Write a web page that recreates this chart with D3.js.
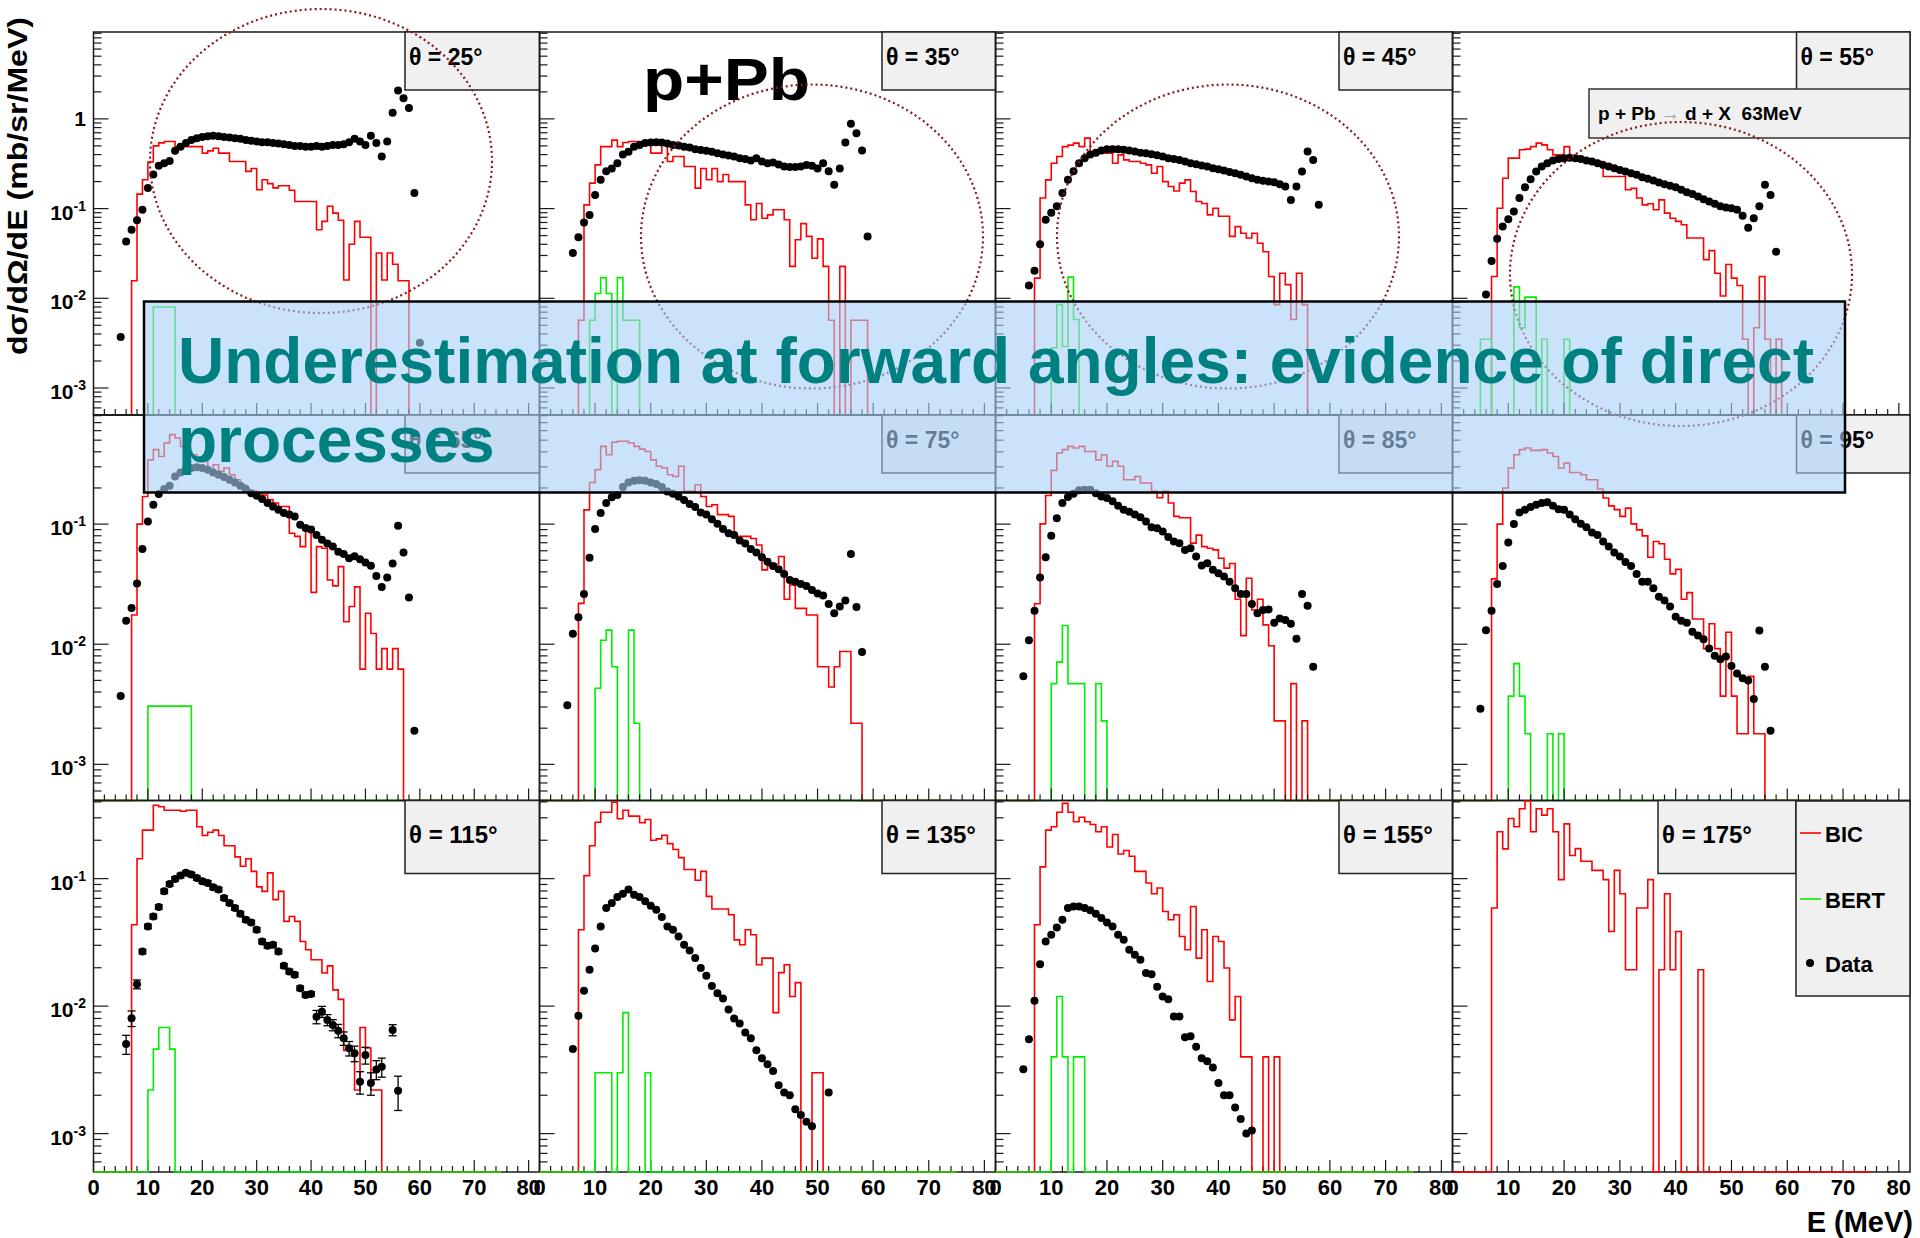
<!DOCTYPE html>
<html>
<head>
<meta charset="utf-8">
<title>p+Pb -> d + X, 63 MeV</title>
<script src="https://cdn.jsdelivr.net/npm/d3@7"></script>
<style>
  body { margin: 0; background: #fff; }
  svg text { font-family: "Liberation Sans", Arial, Helvetica, sans-serif; font-weight: bold; }
</style>
</head>
<body>
<div id="chart"></div>
<script>
// panel angles, left to right, top to bottom
const angles = [25, 35, 45, 55, 65, 75, 85, 95, 115, 135, 155, 175];

// BIC histograms (1 MeV bins, first bin is 7-8 MeV), mb/sr/MeV
const bicStart = 7;
const bic25 = [0.0157, 0.145, 0.21, 0.33, 0.50, 0.54, 0.56, 0.56, 0.49, 0.49, 0.49, 0.49, 0.49, 0.415, 0.44, 0.47, 0.415, 0.415, 0.335, 0.335, 0.335, 0.26, 0.28, 0.162, 0.21, 0.19, 0.17, 0.18, 0.18, 0.16, 0.12, 0.12, 0.12, 0.12, 0.058, 0.072, 0.106, 0.089, 0.074, 0.016, 0.04, 0.072, 0.048, 0.048, 0, 0.032, 0.016, 0.032, 0.024, 0.0157, 0.0157];
const bic35 = [0.0057, 0.11, 0.192, 0.307, 0.49, 0.49, 0.58, 0.49, 0.545, 0.56, 0.56, 0.56, 0.56, 0.415, 0.415, 0.56, 0.335, 0.38, 0.38, 0.294, 0.294, 0.169, 0.28, 0.21, 0.28, 0.20, 0.24, 0.20, 0.20, 0.20, 0.11, 0.075, 0.114, 0.078, 0.085, 0.097, 0.097, 0.075, 0.0227, 0.045, 0.068, 0.049, 0.028, 0.046, 0.0227, 0.0057, 0, 0.0227, 0, 0.0057, 0.0057, 0.0057];
const bic45 = [0.0168, 0.131, 0.209, 0.32, 0.38, 0.49, 0.51, 0.536, 0.49, 0.61, 0.415, 0.43, 0.415, 0.415, 0.32, 0.397, 0.349, 0.335, 0.335, 0.32, 0.307, 0.248, 0.294, 0.20, 0.176, 0.157, 0.192, 0.209, 0.155, 0.12, 0.114, 0.085, 0.101, 0.082, 0.082, 0.049, 0.063, 0.053, 0.047, 0.053, 0.041, 0.033, 0.0175, 0.0085, 0.019, 0.0142, 0.0058, 0.019, 0.0085];
const bic55 = [0.0175, 0.101, 0.218, 0.365, 0.365, 0.452, 0.46, 0.49, 0.536, 0.513, 0.452, 0.397, 0.397, 0.49, 0.38, 0.375, 0.356, 0.356, 0.343, 0.335, 0.228, 0.228, 0.228, 0.228, 0.162, 0.168, 0.131, 0.11, 0.113, 0.097, 0.125, 0.089, 0.078, 0.072, 0.066, 0.047, 0.047, 0.047, 0.027, 0.034, 0.019, 0.0106, 0.0238, 0.0168, 0.0139, 0.0035, 0, 0.0047, 0.0175, 0.0035, 0, 0.0035];
const bic65 = [0.0175, 0.1, 0.17, 0.343, 0.417, 0.366, 0.474, 0.556, 0.521, 0.444, 0.378, 0.378, 0.343, 0.343, 0.284, 0.312, 0.275, 0.293, 0.258, 0.234, 0.213, 0.193, 0.188, 0.181, 0.175, 0.16, 0.15, 0.14, 0.14, 0.084, 0.079, 0.065, 0.087, 0.027, 0.065, 0.063, 0.0343, 0.0306, 0.0443, 0.0154, 0.0206, 0.030, 0.0062, 0.0181, 0.0123, 0.0062, 0.0092, 0.0062, 0.0092, 0.0062];
const bic75 = [0.0219, 0.1315, 0.222, 0.284, 0.444, 0.378, 0.48, 0.49, 0.49, 0.474, 0.444, 0.421, 0.402, 0.343, 0.303, 0.293, 0.258, 0.249, 0.303, 0.188, 0.188, 0.213, 0.17, 0.14, 0.145, 0.12, 0.12, 0.116, 0.079, 0.079, 0.079, 0.076, 0.067, 0.0416, 0.045, 0.0465, 0.0537, 0.0237, 0.0312, 0.0199, 0.0199, 0.0175, 0.0175, 0.0065, 0.0065, 0.0044, 0.0065, 0.0087, 0.0087, 0.0022, 0.0022];
const bic85 = [0.0217, 0.1005, 0.173, 0.28, 0.391, 0.417, 0.444, 0.43, 0.444, 0.402, 0.402, 0.343, 0.378, 0.303, 0.333, 0.303, 0.234, 0.234, 0.249, 0.22, 0.22, 0.188, 0.166, 0.188, 0.15, 0.116, 0.113, 0.113, 0.0694, 0.081, 0.065, 0.063, 0.061, 0.052, 0.043, 0.047, 0.0237, 0.0118, 0.0354, 0.0193, 0.0237, 0.0145, 0.0097, 0.0023, 0.0023, 0, 0.0047, 0, 0.0023];
const bic95 = [0.035, 0.1, 0.2, 0.293, 0.378, 0.417, 0.43, 0.411, 0.411, 0.417, 0.391, 0.366, 0.293, 0.322, 0.269, 0.269, 0.258, 0.234, 0.234, 0.196, 0.165, 0.142, 0.132, 0.116, 0.136, 0.1005, 0.0896, 0.0798, 0.053, 0.0716, 0.0686, 0.051, 0.0385, 0.042, 0.0237, 0.0269, 0.0162, 0.0162, 0.0092, 0.0148, 0.0092, 0.0037, 0.0126, 0.0037, 0.0018, 0.0018, 0.0054, 0.0018, 0.0018];
const bic115 = [0.0435, 0.143, 0.24, 0.24, 0.376, 0.366, 0.344, 0.344, 0.344, 0.338, 0.344, 0.344, 0.255, 0.218, 0.231, 0.24, 0.218, 0.181, 0.181, 0.148, 0.125, 0.143, 0.114, 0.0861, 0.0795, 0.111, 0.0684, 0.0795, 0.0462, 0.0505, 0.0462, 0.0321, 0.0277, 0.0231, 0.0231, 0.0182, 0.0207, 0.0134, 0.0113, 0.0045, 0.0045, 0.0022, 0.0068, 0.0047, 0.0022, 0.0022];
const bic135 = [0.0397, 0.1056, 0.181, 0.277, 0.332, 0.332, 0.398, 0.295, 0.344, 0.309, 0.309, 0.274, 0.291, 0.2, 0.205, 0.219, 0.188, 0.169, 0.146, 0.118, 0.118, 0.097, 0.114, 0.0726, 0.0578, 0.0578, 0.0578, 0.0521, 0.0331, 0.0303, 0.0397, 0.0363, 0.0211, 0.0238, 0.0238, 0.0089, 0.0183, 0.0211, 0.0119, 0.0153, 0, 0, 0.003, 0.003];
const bic155 = [0.0435, 0.1236, 0.24, 0.255, 0.332, 0.389, 0.332, 0.279, 0.303, 0.279, 0.266, 0.233, 0.255, 0.177, 0.222, 0.156, 0.166, 0.15, 0.114, 0.114, 0.0925, 0.0762, 0.0845, 0.0553, 0.0476, 0.0521, 0.0352, 0.0277, 0.0605, 0.0238, 0.0397, 0.0156, 0.0352, 0.0321, 0.0199, 0.0078, 0.0119, 0.004, 0.004, 0, 0, 0.004, 0, 0.004];
const bic175 = [0.0588, 0.233, 0.171, 0.296, 0.255, 0.353, 0.406, 0.233, 0.353, 0.315, 0.353, 0.233, 0.0982, 0.269, 0.152, 0.172, 0.137, 0.137, 0.116, 0.116, 0.0982, 0.0385, 0.116, 0.0762, 0.0193, 0.0193, 0.0588, 0.0588, 0.0982, 0, 0.0193, 0.0762, 0.0193, 0.0385, 0, 0, 0, 0.0193];

// BERT histograms, first bin (MeV) per panel
const bertStart = [11, 9, 10, 5, 10, 10, 10, 10, 10, 10, 10, null];
const bert25 = [0.008, 0.008, 0.008, 0.008];
const bert35 = [0.0057, 0.0113, 0.017, 0.0113, 0, 0.017, 0.0057, 0.0057, 0.0057];
const bert45 = [0.0028, 0.0085, 0.0029, 0.0172, 0.0058];
const bert55 = [0.0035, 0.0035, 0, 0, 0, 0, 0.0134, 0.0047, 0.0103, 0.0103, 0, 0.0035, 0, 0, 0, 0.0035];
const bert65 = [0.00305, 0.00305, 0.00305, 0.00305, 0.00305, 0.00305, 0.00305, 0.00305];
const bert75 = [0.0043, 0.0108, 0.0131, 0.0065, 0, 0, 0.0131, 0.0022];
const bert85 = [0.0047, 0.0071, 0.0143, 0.0047, 0.0047, 0.0047, 0, 0, 0.0047, 0.0023];
const bert95 = [0.0037, 0.0069, 0.0037, 0.0018, 0, 0, 0, 0.0018, 0, 0.0018];
const bert115 = [0.0022, 0.0046, 0.0068, 0.0068, 0.0046];
const bert135 = [0.003, 0.003, 0.003, 0, 0.003, 0.0089, 0, 0, 0, 0.003];
const bert155 = [0.004, 0.0119, 0.004, 0, 0.004, 0.004];

// measured points, one per MeV starting at dataStart (null = no point)
const dataStart = [5, 6, 6, 6, 5, 5, 5, 5, 6, 6, 5, null];
const data25 = [0.0037, 0.043, 0.058, 0.074, 0.097, 0.17, 0.24, 0.30, 0.32, 0.34, 0.44, 0.49, 0.54, 0.58, 0.61, 0.63, 0.64, 0.65, 0.64, 0.63, 0.62, 0.61, 0.60, 0.58, 0.57, 0.56, 0.55, 0.55, 0.54, 0.53, 0.52, 0.51, 0.50, 0.50, 0.49, 0.49, 0.50, 0.49, 0.50, 0.51, 0.51, 0.52, 0.55, 0.60, 0.56, 0.51, 0.65, 0.54, 0.38, 0.56, 1.17, 2.07, 1.7, 1.32, 0.149, 0.0032];
const data35 = [0.032, 0.048, 0.070, 0.085, 0.142, 0.21, 0.26, 0.28, 0.32, 0.40, 0.43, 0.49, 0.51, 0.54, 0.545, 0.55, 0.545, 0.53, 0.51, 0.505, 0.49, 0.48, 0.46, 0.45, 0.44, 0.43, 0.415, 0.40, 0.39, 0.38, 0.365, 0.356, 0.343, 0.365, 0.335, 0.32, 0.326, 0.31, 0.295, 0.29, 0.29, 0.295, 0.307, 0.30, 0.28, 0.32, 0.26, 0.184, 0.28, 0.545, 0.88, 0.69, 0.444, 0.049];
const data45 = [0.0139, 0.0203, 0.040, 0.075, 0.09, 0.106, 0.149, 0.21, 0.26, 0.32, 0.365, 0.40, 0.42, 0.444, 0.459, 0.459, 0.459, 0.452, 0.444, 0.432, 0.42, 0.415, 0.404, 0.394, 0.38, 0.365, 0.356, 0.349, 0.335, 0.32, 0.313, 0.302, 0.294, 0.282, 0.275, 0.266, 0.255, 0.248, 0.238, 0.228, 0.218, 0.209, 0.204, 0.20, 0.197, 0.187, 0.176, 0.125, 0.176, 0.259, 0.432, 0.349, 0.11];
const data55 = [0.011, 0.026, 0.046, 0.063, 0.076, 0.093, 0.131, 0.173, 0.213, 0.259, 0.294, 0.32, 0.343, 0.356, 0.365, 0.368, 0.365, 0.356, 0.343, 0.335, 0.32, 0.307, 0.294, 0.282, 0.27, 0.259, 0.248, 0.238, 0.224, 0.215, 0.206, 0.195, 0.187, 0.18, 0.173, 0.162, 0.152, 0.145, 0.136, 0.127, 0.12, 0.113, 0.106, 0.103, 0.101, 0.097, 0.083, 0.061, 0.078, 0.106, 0.184, 0.142, 0.033];
const data65 = [0.0037, 0.0157, 0.020, 0.032, 0.062, 0.105, 0.145, 0.178, 0.196, 0.209, 0.249, 0.269, 0.288, 0.293, 0.297, 0.293, 0.284, 0.269, 0.258, 0.247, 0.234, 0.222, 0.209, 0.196, 0.181, 0.172, 0.162, 0.15, 0.14, 0.132, 0.124, 0.12, 0.116, 0.099, 0.093, 0.09, 0.081, 0.074, 0.069, 0.065, 0.059, 0.0565, 0.052, 0.054, 0.051, 0.048, 0.045, 0.037, 0.030, 0.036, 0.047, 0.097, 0.058, 0.0245, 0.0019];
const data75 = [0.0031, 0.0122, 0.0168, 0.0262, 0.0526, 0.091, 0.124, 0.15, 0.167, 0.175, 0.204, 0.222, 0.23, 0.232, 0.23, 0.222, 0.216, 0.204, 0.187, 0.179, 0.17, 0.159, 0.147, 0.139, 0.125, 0.12, 0.11, 0.1005, 0.091, 0.084, 0.081, 0.073, 0.069, 0.062, 0.058, 0.053, 0.0487, 0.0449, 0.042, 0.0385, 0.0343, 0.0332, 0.0318, 0.0306, 0.0283, 0.0265, 0.0254, 0.0216, 0.0181, 0.0206, 0.0231, 0.0565, 0.0204, 0.0086];
const data85 = [0.0054, 0.0108, 0.019, 0.0359, 0.053, 0.080, 0.112, 0.15, 0.168, 0.179, 0.191, 0.193, 0.193, 0.181, 0.17, 0.165, 0.155, 0.142, 0.132, 0.127, 0.12, 0.114, 0.105, 0.094, 0.0926, 0.087, 0.078, 0.0716, 0.0694, 0.061, 0.063, 0.0537, 0.0452, 0.0473, 0.0416, 0.039, 0.0366, 0.0332, 0.0292, 0.0262, 0.0262, 0.0216, 0.0181, 0.0193, 0.0195, 0.0151, 0.0164, 0.0159, 0.0148, 0.0111, 0.0262, 0.0209, 0.0065];
const data95 = [0.0029, 0.0131, 0.019, 0.0318, 0.0449, 0.0703, 0.10, 0.125, 0.1315, 0.139, 0.145, 0.15, 0.152, 0.142, 0.133, 0.1315, 0.12, 0.11, 0.1005, 0.0944, 0.0852, 0.081, 0.0716, 0.065, 0.058, 0.0537, 0.0483, 0.0449, 0.0385, 0.0332, 0.0331, 0.0292, 0.0248, 0.0231, 0.0206, 0.0169, 0.0157, 0.0151, 0.0127, 0.0118, 0.011, 0.0092, 0.008, 0.0075, 0.0079, 0.0066, 0.0057, 0.0052, 0.0050, 0.0035, 0.013, 0.0065, 0.0019];
const data115 = [0.00504, 0.00804, 0.01485, 0.0268, 0.0422, 0.0505, 0.0599, 0.0795, 0.0908, 0.0994, 0.1056, 0.111, 0.1075, 0.101, 0.0953, 0.0925, 0.0855, 0.082, 0.0705, 0.0644, 0.0589, 0.0531, 0.0476, 0.0453, 0.0397, 0.0321, 0.0297, 0.0303, 0.0268, 0.0207, 0.0187, 0.0176, 0.0138, 0.01225, 0.01247, 0.00826, 0.00905, 0.0078, 0.00712, 0.00642, 0.0056, 0.00467, 0.00426, 0.00255, 0.00413, 0.0025, 0.00319, 0.00334, null, 0.0065, 0.00217];
const data135 = [0.0046, 0.0084, 0.0132, 0.0193, 0.0283, 0.0422, 0.0589, 0.0644, 0.0718, 0.0762, 0.082, 0.0748, 0.0718, 0.0664, 0.0614, 0.0571, 0.05, 0.0422, 0.0397, 0.0352, 0.0303, 0.0273, 0.0238, 0.0199, 0.0173, 0.0144, 0.0126, 0.0115, 0.0094, 0.0080, 0.0073, 0.0062, 0.0056, 0.0045, 0.0039, 0.0035, 0.0031, 0.0024, 0.0021, 0.0020, 0.00155, 0.0014, 0.00124, 0.00114, null, null, 0.0021];
const data155 = [0.0032, 0.0055, 0.011, 0.0213, 0.0321, 0.0363, 0.0414, 0.0476, 0.0589, 0.0605, 0.0605, 0.0589, 0.0564, 0.0531, 0.0491, 0.0453, 0.0422, 0.0363, 0.0331, 0.0277, 0.0253, 0.0231, 0.0182, 0.0178, 0.0142, 0.0119, 0.0113, 0.0083, 0.0083, 0.0057, 0.0058, 0.0048, 0.0039, 0.0037, 0.0033, 0.0025, 0.0020, 0.0020, 0.0016, 0.0013, 0.0010, 0.00106];
// relative errors of the 115 deg points (the only ones visible outside the markers)
const err115 = [0.17, 0.14, 0.08, 0.04, 0.04, 0.04, 0.04, 0.04, 0.04, 0.04, 0.04, 0.04, 0.04, 0.04, 0.04, 0.04, 0.04, 0.04, 0.04, 0.04, 0.04, 0.04, 0.04, 0.04, 0.04, 0.04, 0.04, 0.04, 0.04, 0.04, 0.04, 0.04, 0.04, 0.04, 0.04, 0.12, 0.1, 0.1, 0.1, 0.12, 0.12, 0.13, 0.14, 0.2, 0.15, 0.2, 0.17, 0.17, null, 0.1, 0.3];

// axes
const xMajorTicks = [0, 10, 20, 30, 40, 50, 60, 70, 80];
const rowTop = [9.3, 0.81, 0.41];
const yBottom = 5e-4;
const histEnd = 75;

const bicList = [bic25, bic35, bic45, bic55, bic65, bic75, bic85, bic95, bic115, bic135, bic155, bic175];
const bertList = [bert25, bert35, bert45, bert55, bert65, bert75, bert85, bert95, bert115, bert135, bert155, null];
const dataList = [data25, data35, data45, data55, data65, data75, data85, data95, data115, data135, data155, null];

// pad geometry
const colX = [93.5, 539.5, 995.5, 1452.5, 1910];
const rowY = [32, 415, 800.5, 1172];
const boxH = [58, 58, 73];

const svg = d3.select("#chart").append("svg")
  .attr("width", 1920).attr("height", 1238)
  .style("display", "block");

// full 0-75 MeV bin list, empty bins sit at the bottom of the pad
function histPoints(start, vals) {
  const pts = [];
  for (let b = 0; b < histEnd; b++) {
    const k = b - start;
    pts.push([b, k >= 0 && k < vals.length ? vals[k] : 0]);
  }
  pts.push([histEnd, pts[histEnd - 1][1]]);
  return pts;
}

function drawFrame(g, x, y, col, row) {
  const x0 = colX[col], x1 = colX[col + 1], y0 = rowY[row], y1 = rowY[row + 1];
  g.append("rect")
    .attr("x", x0).attr("y", y0).attr("width", x1 - x0).attr("height", y1 - y0)
    .attr("fill", "none").attr("stroke", "#1a1a1a").attr("stroke-width", 1.5);

  // x ticks along the bottom, every 2 MeV
  const xt = d3.range(0, 82, 2);
  g.selectAll(null).data(xt).join("line")
    .attr("x1", d => x(d)).attr("x2", d => x(d))
    .attr("y1", y1).attr("y2", d => y1 - (d % 10 === 0 ? 12 : 6))
    .attr("stroke", "#1a1a1a").attr("stroke-width", 1.2);

  // log y ticks on the left edge
  const yt = [];
  for (let e = -4; e <= 1; e++) {
    for (let m = 1; m < 10; m++) {
      const v = m * Math.pow(10, e);
      if (v >= yBottom && v <= rowTop[row]) yt.push({ v: v, major: m === 1 });
    }
  }
  g.selectAll(null).data(yt).join("line")
    .attr("x1", x0).attr("x2", d => x0 + (d.major ? 15 : 8))
    .attr("y1", d => y(d.v)).attr("y2", d => y(d.v))
    .attr("stroke", "#1a1a1a").attr("stroke-width", 1.2);
}

angles.forEach((angle, i) => {
  const col = i % 4, row = Math.floor(i / 4);
  const x = d3.scaleLinear().domain([0, 82]).range([colX[col], colX[col + 1]]);
  const y = d3.scaleLog().domain([yBottom, rowTop[row]]).range([rowY[row + 1], rowY[row]]).clamp(true);
  const yv = v => (v > 0 ? y(v) : y(yBottom));
  const g = svg.append("g").attr("class", "pad pad-" + angle);

  const line = d3.line()
    .x(d => x(d[0]))
    .y(d => yv(d[1]))
    .curve(d3.curveStepAfter);

  // bottom row: histograms are drawn over the frame
  if (row === 2) drawFrame(g, x, y, col, row);

  g.append("path")
    .attr("d", line(histPoints(bicStart, bicList[i])))
    .attr("fill", "none").attr("stroke", "#ff0000").attr("stroke-width", 1.6);

  if (bertList[i]) {
    g.append("path")
      .attr("d", line(histPoints(bertStart[i], bertList[i])))
      .attr("fill", "none").attr("stroke", "#00ee00").attr("stroke-width", 1.6);
  }

  if (dataList[i]) {
    const pts = dataList[i]
      .map((v, k) => ({ e: dataStart[i] + k, v: v, err: angle === 115 ? err115[k] : null }))
      .filter(d => d.v !== null);

    if (angle === 115) {
      const bars = pts.filter(d => d.err);
      g.selectAll(null).data(bars).join("line")
        .attr("x1", d => x(d.e)).attr("x2", d => x(d.e))
        .attr("y1", d => y(d.v * (1 - d.err))).attr("y2", d => y(d.v * (1 + d.err)))
        .attr("stroke", "#000").attr("stroke-width", 1.3);
      [-1, 1].forEach(s => {
        g.selectAll(null).data(bars).join("line")
          .attr("x1", d => x(d.e) - 4).attr("x2", d => x(d.e) + 4)
          .attr("y1", d => y(d.v * (1 + s * d.err))).attr("y2", d => y(d.v * (1 + s * d.err)))
          .attr("stroke", "#000").attr("stroke-width", 1.3);
      });
    }

    g.selectAll(null).data(pts).join("circle")
      .attr("cx", d => x(d.e))
      .attr("cy", d => y(d.v))
      .attr("r", 4)
      .attr("fill", "#000");
  }

  if (row < 2) drawFrame(g, x, y, col, row);

  // y tick labels only on the first column
  if (col === 0) {
    const decades = [1, 0.1, 0.01, 0.001].filter(v => v <= rowTop[row]);
    decades.forEach(v => {
      const ex = Math.round(Math.log10(v));
      const t = g.append("text")
        .attr("x", 86)
        .attr("text-anchor", "end")
        .style("font-size", "21px");
      if (ex === 0) {
        t.attr("y", y(v) + 7.5).text("1");
      } else {
        t.attr("y", y(v) + 11);
        t.append("tspan").text("10");
        t.append("tspan").attr("dy", -9).style("font-size", "14px").text(ex);
      }
    });
  }

  // energy labels under the last row
  if (row === 2) {
    g.selectAll(null).data(xMajorTicks).join("text")
      .attr("x", d => x(d)).attr("y", 1195)
      .attr("text-anchor", "middle")
      .style("font-size", "22px")
      .text(d => d);
  }

  // angle box in the upper right corner
  let bx0 = col === 0 ? 405 : colX[col + 1] - 113.5;
  let bx1 = colX[col + 1];
  if (angle === 175) { bx0 = 1658; bx1 = 1796; }
  g.append("rect")
    .attr("x", bx0).attr("y", rowY[row])
    .attr("width", bx1 - bx0).attr("height", boxH[row])
    .attr("fill", "#f0f0f0").attr("stroke", "#222").attr("stroke-width", 1.5);
  g.append("text")
    .attr("x", bx0 + 4)
    .attr("y", rowY[row] + (row === 2 ? 42 : 33))
    .style("font-size", row === 2 ? "24px" : "23px")
    .text("\u03b8 = " + angle + "\u00b0");
});

// legend
const leg = svg.append("g").attr("class", "legend");
leg.append("rect")
  .attr("x", 1796).attr("y", 801).attr("width", 114).attr("height", 195)
  .attr("fill", "#f0f0f0").attr("stroke", "#222").attr("stroke-width", 1.5);
[{ name: "BIC", color: "#ff0000", y: 833 }, { name: "BERT", color: "#00ee00", y: 899 }].forEach(d => {
  leg.append("line")
    .attr("x1", 1800).attr("x2", 1821).attr("y1", d.y).attr("y2", d.y)
    .attr("stroke", d.color).attr("stroke-width", 1.6);
  leg.append("text").attr("x", 1825).attr("y", d.y + 9).style("font-size", "22px").text(d.name);
});
leg.append("circle").attr("cx", 1810).attr("cy", 963).attr("r", 4).attr("fill", "#000");
leg.append("text").attr("x", 1825).attr("y", 972).style("font-size", "22px").text("Data");

// reaction label
svg.append("rect")
  .attr("x", 1589).attr("y", 89).attr("width", 321).attr("height", 49)
  .attr("fill", "#f0f0f0").attr("stroke", "#333").attr("stroke-width", 1.5);
const react = svg.append("text")
  .attr("x", 1598).attr("y", 120)
  .style("font-size", "19px")
  .style("white-space", "pre");
react.append("tspan").text("p + Pb ");
react.append("tspan").attr("fill", "#999").style("font-weight", "normal").text("\u2192");
react.append("tspan").text(" d + X  63MeV");

// axis titles
svg.append("text")
  .attr("transform", "translate(27,17) rotate(-90)")
  .attr("text-anchor", "end")
  .attr("textLength", 338)
  .attr("lengthAdjust", "spacingAndGlyphs")
  .style("font-size", "28px")
  .text("d\u03c3/d\u03a9/dE (mb/sr/MeV)");

svg.append("text")
  .attr("x", 1913).attr("y", 1232)
  .attr("text-anchor", "end")
  .style("font-size", "29px")
  .text("E (MeV)");

// big title
svg.append("text")
  .attr("x", 643).attr("y", 100)
  .attr("textLength", 167)
  .attr("lengthAdjust", "spacingAndGlyphs")
  .style("font-size", "60px")
  .text("p+Pb");

// dotted circles around the forward-angle excess
const rings = [
  { cx: 321, cy: 161 },
  { cx: 812, cy: 236.5 },
  { cx: 1228, cy: 236.5 },
  { cx: 1681, cy: 274 }
];
svg.selectAll(".ring").data(rings).join("ellipse")
  .attr("class", "ring")
  .attr("cx", d => d.cx).attr("cy", d => d.cy)
  .attr("rx", 171).attr("ry", 152)
  .attr("fill", "none")
  .attr("stroke", "#8b1a1a")
  .attr("stroke-width", 2.2)
  .attr("stroke-dasharray", "2,3");

// highlighted note
svg.append("rect")
  .attr("x", 144).attr("y", 301.5).attr("width", 1701).attr("height", 191)
  .attr("fill", "rgb(168,208,247)").attr("fill-opacity", 0.6)
  .attr("stroke", "#000").attr("stroke-width", 2.5);
const note = svg.append("text")
  .attr("fill", "#008080")
  .style("font-size", "64px");
note.append("tspan").attr("x", 178).attr("y", 383)
  .text("Underestimation at forward angles: evidence of direct");
note.append("tspan").attr("x", 178).attr("y", 462).text("processes");
</script>
</body>
</html>
